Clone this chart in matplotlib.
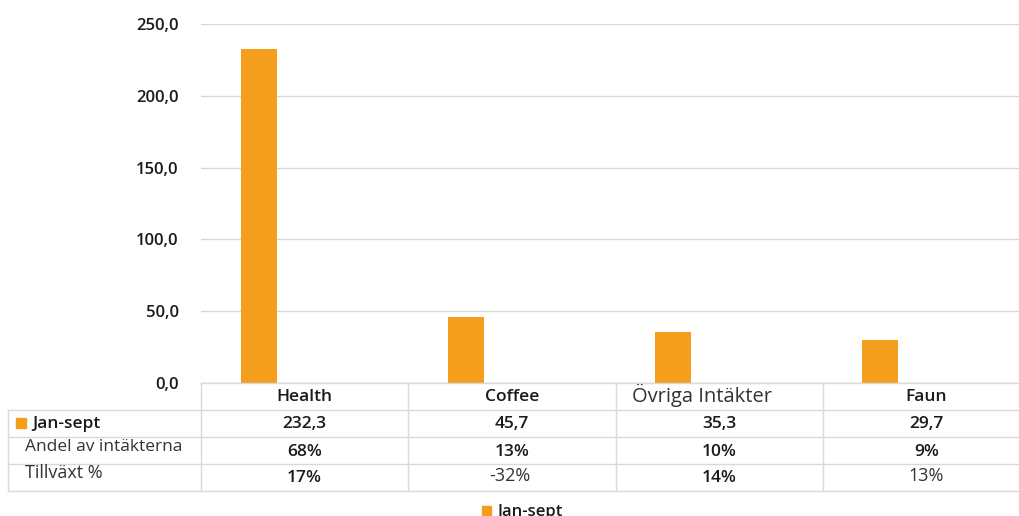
import matplotlib
matplotlib.use("Agg")
import matplotlib.pyplot as plt
from matplotlib.transforms import blended_transform_factory
from matplotlib.lines import Line2D
from matplotlib.patches import Rectangle

categories = ["Health", "Coffee", "Övriga Intäkter", "Faun"]
values = [232.3, 45.7, 35.3, 29.7]
value_labels = ["232,3", "45,7", "35,3", "29,7"]
andel = ["68%", "13%", "10%", "9%"]
tillvaxt = ["17%", "-32%", "14%", "13%"]
yticks = [0, 50, 100, 150, 200, 250]
series_name = "Jan-sept"

ORANGE = "#F59E1E"
GRID = "#D9D9D9"
TXT = "#1a1a1a"
LIGHT = "#333333"
W, H = 1019, 516

plt.rcParams["font.family"] = ["Open Sans", "DejaVu Sans"]
fig = plt.figure(figsize=(W / 100, H / 100), dpi=100)

def fx(px):
    return px / W

def fy(py):
    return 1 - py / H

ax_l, ax_r, ax_t, ax_b = 201, 1030, 24, 383
colw = (ax_r - ax_l) / 4
ax = fig.add_axes([fx(ax_l), fy(ax_b), fx(ax_r - ax_l), (ax_b - ax_t) / H])
ax.set_xlim(-0.5, 3.5)
ax.set_ylim(0, 250)
xs = list(range(len(categories)))
offset = -46 / colw
ax.bar([x + offset for x in xs], values, width=36 / colw, color=ORANGE, zorder=3)
ax.set_yticks(yticks)
ax.set_yticklabels([f"{v:.1f}".replace(".", ",") for v in yticks], fontsize=12, color=TXT, fontweight="semibold")
ax.tick_params(axis="y", length=0, pad=16)
ax.tick_params(axis="x", bottom=False, labelbottom=False)
ax.grid(axis="y", color=GRID, lw=1, zorder=0)
for s in ax.spines.values():
    s.set_visible(False)

# table
tr = blended_transform_factory(ax.transData, fig.transFigure)
col_edges = [-0.5, 0.5, 1.5, 2.5, 3.5]
rows_y = [383, 410, 437, 464, 491]

def hline(x0px, y):
    fig.add_artist(Line2D([fx(x0px), fx(1030)], [fy(y), fy(y)], color=GRID, lw=1, transform=fig.transFigure))

def vline(xpx, y0, y1):
    fig.add_artist(Line2D([fx(xpx), fx(xpx)], [fy(y0), fy(y1)], color=GRID, lw=1, transform=fig.transFigure))

hline(201, 383)
for y in rows_y[1:]:
    hline(8, y)
vline(8, 410, 491)
for e in col_edges:
    xpx = ax_l + (e + 0.5) * colw
    vline(xpx, 383, 491)

# header
for i, c in enumerate(categories):
    if i == 2:
        fig.text(fx(632), fy(395), c, ha="left", va="center", fontsize=14.5, color=LIGHT, fontweight="normal")
    else:
        ax.text(i, fy(397), c, transform=tr, ha="center", va="center", fontsize=12.5, color=TXT, fontweight="semibold")

for i in range(len(categories)):
    ax.text(i, fy(424), value_labels[i], transform=tr, ha="center", va="center", fontsize=12.5, color=TXT, fontweight="semibold")
    ax.text(i, fy(452), andel[i], transform=tr, ha="center", va="center", fontsize=12.5, color=TXT, fontweight="semibold")
    light = i in (1, 3)
    if light:
        ax.text(i - (2 / colw if i == 1 else 0), fy(476), tillvaxt[i], transform=tr, ha="center", va="center",
                fontsize=13, color=LIGHT, fontweight="normal")
    else:
        ax.text(i, fy(478), tillvaxt[i], transform=tr, ha="center", va="center",
                fontsize=12.5, color=TXT, fontweight="semibold")

# row labels
fig.add_artist(Rectangle((fx(16), fy(428)), fx(10), 10 / H, color=ORANGE, transform=fig.transFigure))
fig.text(fx(32), fy(424), series_name, ha="left", va="center", fontsize=12.5, color=TXT, fontweight="semibold")
fig.text(fx(25), fy(447), "Andel av intäkterna", ha="left", va="center", fontsize=12.5, color=LIGHT, fontweight="normal")
fig.text(fx(25), fy(473), "Tillväxt %", ha="left", va="center", fontsize=13, color=LIGHT, fontweight="normal")

# legend
fig.add_artist(Rectangle((fx(482), fy(516)), fx(9), 10 / H, color=ORANGE, transform=fig.transFigure))
fig.text(fx(497), fy(512), series_name, ha="left", va="center", fontsize=12, color=TXT, fontweight="semibold")

fig.savefig("out.png", dpi=100)
